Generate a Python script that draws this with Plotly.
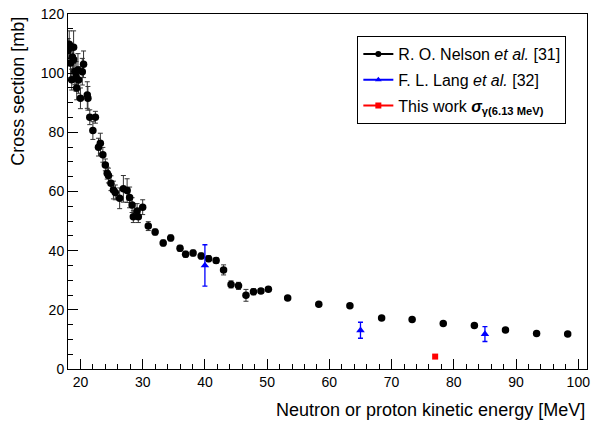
import plotly.graph_objects as go

# R. O. Nelson et al. [31]
nelson_E = [18.03, 18.2, 18.4, 18.6, 18.7, 18.9, 18.9, 19.1, 19.3, 19.4, 19.6, 19.7, 20.0, 20.3, 20.5,
            21.1, 21.2, 21.5, 22.4, 22.0,
            22.9, 23.2, 23.6, 24.0, 24.3, 24.5, 24.9, 25.3, 25.6, 26.3, 26.9, 27.5, 27.9, 28.3, 28.5,
            29.1, 29.3, 30.0,
            30.9, 32.0, 33.3, 34.5, 36.0, 36.9, 38.1, 39.4, 40.6, 41.8, 43.0, 44.2, 45.4, 46.6, 47.8,
            49.0, 50.2, 53.3, 58.3, 63.3, 68.4, 73.3, 78.3, 83.3, 88.3, 93.3, 98.3]
nelson_sigma = [107.7, 109.8, 103.4, 97.8, 105.5, 108.8, 104.5, 100.6, 98.9, 95.0, 101.1, 97.7, 91.5, 100.5, 103.0,
                92.6, 91.5, 85.1, 85.1, 80.6,
                75.0, 76.3, 72.4, 69.0, 66.2, 65.4, 62.8, 60.5, 59.7, 57.7, 60.9, 60.3, 58.0, 55.4, 51.5,
                53.4, 51.5, 54.7,
                48.3, 46.3, 42.6, 44.3, 40.8, 38.8, 39.2, 38.2, 37.3, 36.7, 33.5, 28.6, 28.1, 24.9, 26.1,
                26.4, 27.0, 24.0, 21.9, 21.4, 17.2, 16.7, 15.4, 14.7, 13.2, 12.0, 11.8]
nelson_err = [4.0, 4.5, 5.0, 3.5, 4.0, 5.5, 4.0, 4.5, 5.0, 4.0, 5.5, 4.5, 3.5, 4.5, 4.5,
              4.5, 4.0, 2.5, 2.0, 3.0,
              3.0, 3.4, 2.5, 2.0, 2.0, 2.5, 2.5, 3.0, 2.5, 3.5, 4.5, 4.0, 3.5, 2.5, 2.0,
              2.5, 2.0, 2.5,
              1.5, 1.0, 1.0, 1.0, 1.0, 1.0, 1.0, 1.0, 1.0, 1.0, 1.7, 1.2, 1.2, 2.0, 1.0,
              0.8, 0.8, 0.6, 0.6, 0.6, 0.5, 0.5, 0.5, 0.5, 0.5, 0.5, 0.5]

# F. L. Lang et al. [32]
lang_E = [40, 65, 85]
lang_sigma = [35.0, 13.1, 11.8]
lang_err = [7.0, 2.7, 2.5]

# This work
this_E = [77]
this_sigma = [4.2]

legend_names = ["R. O. Nelson <i>et al.</i> [31]",
                "F. L. Lang <i>et al.</i> [32]",
                "This work <b><i>σ</i></b><sub><b>γ(6.13 MeV)</b></sub>"]

fig = go.Figure()

fig.add_trace(go.Scatter(
    x=nelson_E, y=nelson_sigma, mode="markers",
    marker=dict(symbol="circle", size=7.5, color="black"),
    error_y=dict(type="data", array=nelson_err, visible=True, color="#333333", thickness=1, width=2.5),
    showlegend=False))
fig.add_trace(go.Scatter(
    x=lang_E, y=lang_sigma, mode="markers",
    marker=dict(symbol="triangle-up", size=7.5, color="#0000ff"),
    error_y=dict(type="data", array=lang_err, visible=True, color="#0000ff", thickness=1.3, width=2.5),
    showlegend=False))
fig.add_trace(go.Scatter(
    x=this_E, y=this_sigma, mode="markers",
    marker=dict(symbol="square", size=6, color="#ff0000"),
    showlegend=False))

# legend entries
for name, col, sym in zip(legend_names, ["black", "#0000ff", "#ff0000"], ["circle", "triangle-up", "square"]):
    fig.add_trace(go.Scatter(
        x=[None], y=[None], mode="lines+markers", name=name, legendgroup=name,
        line=dict(color=col, width=2), marker=dict(symbol=sym, size=6, color=col)))

fig.update_layout(
    width=595, height=424,
    margin=dict(l=68, r=5, t=14, b=55),
    paper_bgcolor="white", plot_bgcolor="white",
    font=dict(family="Liberation Sans, Arial, sans-serif", size=14, color="black"),
    legend=dict(x=0.5575, y=0.938, xanchor="left", yanchor="top",
                bordercolor="black", borderwidth=1, bgcolor="white",
                font=dict(size=16), tracegroupgap=2, traceorder="grouped"),
)

fig.update_xaxes(range=[18, 101.4], showline=True, linecolor="black", linewidth=1, mirror=True,
                 ticks="inside", ticklen=10, tickwidth=1, tickcolor="black", dtick=10, tick0=0,
                 minor=dict(ticks="inside", ticklen=5, dtick=2, tickcolor="black"),
                 showgrid=False, zeroline=False, tickfont=dict(size=14))
fig.update_yaxes(range=[0, 120], showline=True, linecolor="black", linewidth=1, mirror=True,
                 ticks="inside", ticklen=10, tickwidth=1, tickcolor="black", dtick=20, tick0=0,
                 minor=dict(ticks="inside", ticklen=5, dtick=5, tickcolor="black"),
                 showgrid=False, zeroline=False, tickfont=dict(size=14))

fig.add_annotation(text="Neutron or proton kinetic energy [MeV]", xref="paper", yref="paper",
                   x=1.0, y=-0.1155, xanchor="right", yanchor="middle", showarrow=False,
                   font=dict(size=18))
fig.add_annotation(text="Cross section [mb]", xref="paper", yref="paper",
                   x=-0.0977, y=0.997, xanchor="center", yanchor="top", textangle=-90,
                   showarrow=False, font=dict(size=18))

fig.write_html("out.html")
